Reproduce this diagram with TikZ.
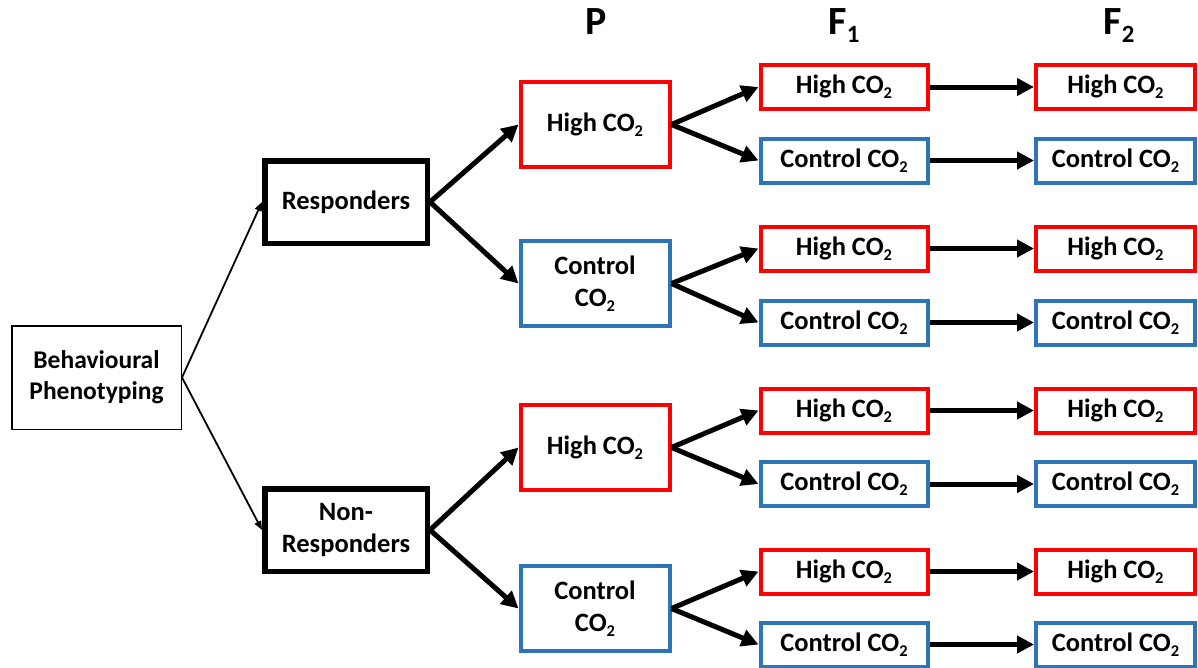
\documentclass[tikz,border=0pt]{standalone}
\usepackage{fontspec}
\usepackage{graphicx}
\setmainfont{Carlito}
\usetikzlibrary{arrows.meta}
\definecolor{boxred}{RGB}{255,0,0}
\definecolor{boxblue}{RGB}{46,117,182}
\newcommand\lsub[1]{\raisebox{-0.2em}{\scalebox{0.62}{#1}}}
\newcommand\cotwo{CO\lsub{2}}
\tikzset{
  txt/.style={font=\fontsize{26.5}{32}\selectfont\bfseries, align=center, inner sep=0pt},
  bpbox/.style={draw=black, line width=1.5pt, minimum width=169.5pt, minimum height=103.5pt, inner sep=0pt, align=center, font=\fontsize{25.5}{31}\selectfont\bfseries},
  grpbox/.style={txt, draw=black, line width=5.5pt, minimum width=162.5pt, minimum height=82.5pt},
  pred/.style={txt, draw=boxred, line width=4pt, minimum width=149pt, minimum height=85pt},
  pblue/.style={txt, draw=boxblue, line width=4pt, minimum width=149pt, minimum height=85pt},
  fonered/.style={txt, draw=boxred, line width=4pt, minimum width=167pt, minimum height=44pt},
  foneblue/.style={txt, draw=boxblue, line width=4pt, minimum width=167pt, minimum height=44pt},
  ftwored/.style={txt, draw=boxred, line width=4pt, minimum width=159pt, minimum height=44pt},
  ftwoblue/.style={txt, draw=boxblue, line width=4pt, minimum width=159pt, minimum height=44pt},
  hdr/.style={font=\fontsize{40}{44}\selectfont\bfseries, inner sep=0pt, anchor=base},
  thickarrow/.style={line width=5pt, -{Triangle[length=17pt,width=17pt]}},
  thinarrow/.style={line width=1.8pt, -{Triangle[length=9pt,width=7pt]}},
}
\begin{document}
\begin{tikzpicture}[x=1pt, y=-1pt]
\useasboundingbox (0,0) rectangle (1198,667);
% headers
\node[hdr] (hp) at (596,34) {P};
\node[hdr] (hf1) at (844,34) {F\lsub{1}};
\node[hdr] (hf2) at (1119,34) {F\lsub{2}};
% root
\node[bpbox] (bp) at (96.5,377.5) {Behavioural\\Phenotyping};
% groups
\node[grpbox] (r) at (346,202) {Responders};
\node[grpbox] (nr) at (346,530) {Non-\\Responders};
% P
\node[pred]  (p1) at (595,124.5) {High \cotwo};
\node[pblue] (p2) at (595,283.5) {Control\\\cotwo};
\node[pred]  (p3) at (595,447.5) {High \cotwo};
\node[pblue] (p4) at (595,608.5) {Control\\\cotwo};
% F1
\node[fonered]  (a1) at (844,87)    {High \cotwo};
\node[foneblue] (a2) at (844,160.5) {Control \cotwo};
\node[fonered]  (a3) at (844,248.5) {High \cotwo};
\node[foneblue] (a4) at (844,322.5) {Control \cotwo};
\node[fonered]  (a5) at (844,410.5) {High \cotwo};
\node[foneblue] (a6) at (844,484)   {Control \cotwo};
\node[fonered]  (a7) at (844,571.5) {High \cotwo};
\node[foneblue] (a8) at (844,644.5) {Control \cotwo};
% F2
\node[ftwored]  (b1) at (1115.5,87)    {High \cotwo};
\node[ftwoblue] (b2) at (1115.5,160.5) {Control \cotwo};
\node[ftwored]  (b3) at (1115.5,248.5) {High \cotwo};
\node[ftwoblue] (b4) at (1115.5,322.5) {Control \cotwo};
\node[ftwored]  (b5) at (1115.5,410.5) {High \cotwo};
\node[ftwoblue] (b6) at (1115.5,484)   {Control \cotwo};
\node[ftwored]  (b7) at (1115.5,571.5) {High \cotwo};
\node[ftwoblue] (b8) at (1115.5,644.5) {Control \cotwo};
% connectors
\draw[thinarrow] (bp.east) -- (r.west);
\draw[thinarrow] (bp.east) -- (nr.west);
\draw[thickarrow] (r.east) -- (p1.west);
\draw[thickarrow] (r.east) -- (p2.west);
\draw[thickarrow] (nr.east) -- (p3.west);
\draw[thickarrow] (nr.east) -- (p4.west);
\draw[thickarrow] (p1.east) -- (a1.west);
\draw[thickarrow] (p1.east) -- (a2.west);
\draw[thickarrow] (p2.east) -- (a3.west);
\draw[thickarrow] (p2.east) -- (a4.west);
\draw[thickarrow] (p3.east) -- (a5.west);
\draw[thickarrow] (p3.east) -- (a6.west);
\draw[thickarrow] (p4.east) -- (a7.west);
\draw[thickarrow] (p4.east) -- (a8.west);
\foreach \i in {1,...,8} {
  \draw[thickarrow] (a\i.east) -- (b\i.west);
}
\end{tikzpicture}
\end{document}
